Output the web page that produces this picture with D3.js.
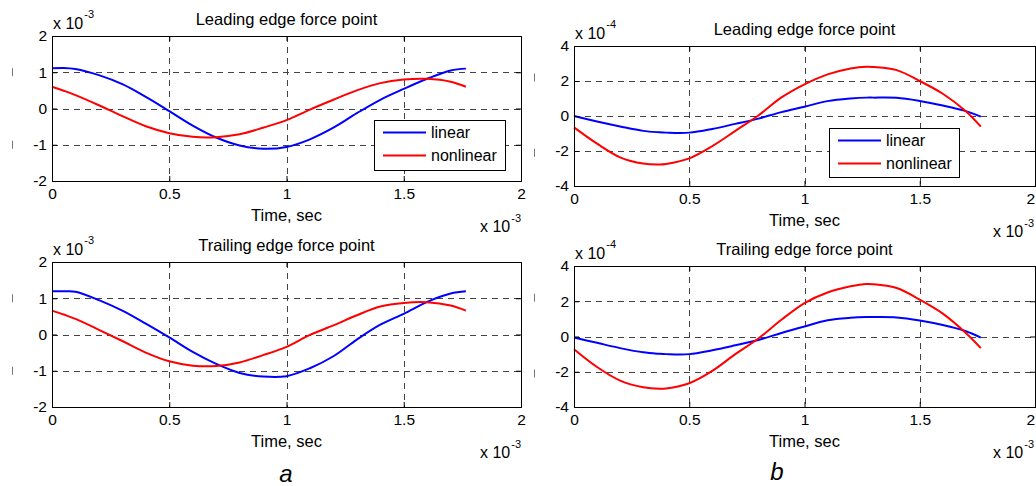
<!DOCTYPE html>
<html>
<head>
<meta charset="utf-8">
<script src="https://cdn.jsdelivr.net/npm/d3@7"></script>
<style>
  html, body { margin: 0; padding: 0; background: #fff; }
  svg { display: block; font-family: "Liberation Sans", Arial, sans-serif; }
</style>
</head>
<body>
<svg id="chart" width="1036" height="486"></svg>
<script>
// ---------- DATA (time in units of 1e-3 s; values in units of the panel multiplier) ----------
const seriesNames = ["linear", "nonlinear"];
const xTicks = [0, 0.5, 1, 1.5, 2];
const xTickLabels = ["0", "0.5", "1", "1.5", "2"];
const yTicksA = [-2, -1, 0, 1, 2];          // panels a (x 10^-3)
const yTickLabelsA = ["-2", "-1", "0", "1", "2"];
const yTicksB = [-4, -2, 0, 2, 4];          // panels b (x 10^-4)
const yTickLabelsB = ["-4", "-2", "0", "2", "4"];

// column a : time samples
const timeA = [0, 0.05, 0.1, 0.2, 0.3, 0.4, 0.5, 0.6, 0.7, 0.8, 0.9, 1.0, 1.1, 1.2, 1.3, 1.4, 1.5, 1.6, 1.7, 1.765];
// a, leading edge force point
const aLeadLinear    = [1.11, 1.12, 1.09, 0.92, 0.67, 0.32, -0.07, -0.47, -0.80, -1.02, -1.11, -1.06, -0.85, -0.53, -0.13, 0.24, 0.54, 0.82, 1.05, 1.10];
const aLeadNonlinear = [0.60, 0.49, 0.37, 0.09, -0.21, -0.49, -0.68, -0.78, -0.79, -0.71, -0.53, -0.32, -0.03, 0.24, 0.50, 0.70, 0.80, 0.82, 0.74, 0.60];
// a, trailing edge force point
const aTrailLinear    = [1.19, 1.19, 1.18, 0.95, 0.66, 0.30, -0.08, -0.48, -0.81, -1.06, -1.16, -1.15, -0.93, -0.60, -0.14, 0.27, 0.57, 0.90, 1.13, 1.19];
const aTrailNonlinear = [0.66, 0.55, 0.43, 0.13, -0.18, -0.50, -0.74, -0.86, -0.87, -0.77, -0.57, -0.34, -0.01, 0.25, 0.53, 0.77, 0.87, 0.89, 0.80, 0.66];

// column b : time samples
const timeB = [0, 0.1, 0.2, 0.3, 0.37, 0.4, 0.5, 0.6, 0.7, 0.8, 0.9, 1.0, 1.1, 1.2, 1.27, 1.3, 1.4, 1.5, 1.6, 1.7, 1.765];
// b, leading edge force point
const bLeadLinear    = [0.00, -0.32, -0.60, -0.85, -0.93, -0.95, -0.95, -0.74, -0.45, -0.15, 0.22, 0.53, 0.85, 1.00, 1.05, 1.05, 1.04, 0.86, 0.60, 0.28, -0.04];
const bLeadNonlinear = [-0.65, -1.58, -2.36, -2.72, -2.77, -2.74, -2.42, -1.72, -0.85, 0.03, 1.06, 1.81, 2.38, 2.72, 2.82, 2.80, 2.62, 2.00, 1.27, 0.27, -0.61];
// b, trailing edge force point
const bTrailLinear    = [-0.06, -0.36, -0.66, -0.90, -0.98, -1.00, -1.00, -0.78, -0.50, -0.20, 0.20, 0.57, 0.92, 1.06, 1.10, 1.10, 1.08, 0.91, 0.65, 0.30, -0.06];
const bTrailNonlinear = [-0.72, -1.73, -2.50, -2.88, -2.97, -2.95, -2.65, -1.95, -1.00, -0.11, 0.95, 1.90, 2.50, 2.85, 2.98, 2.96, 2.75, 2.09, 1.30, 0.20, -0.66];

const titles = ["Leading edge force point", "Trailing edge force point"];
const xLabel = "Time, sec";
const xExp = "-3";
const yExpA = "-3";
const yExpB = "-4";
const panelLetters = ["a", "b"];

// ---------- LAYOUT ----------
const W = 1036;
const colors = ["#0000ff", "#ff0000"];
const panels = [
  { box: [52, 521, 36, 181],   t: timeA, ys: [aLeadLinear, aLeadNonlinear],   yTicks: yTicksA, yLabels: yTickLabelsA, yExp: yExpA, title: titles[0], legend: [374, 120, 131, 50] },
  { box: [52, 521, 262, 407],  t: timeA, ys: [aTrailLinear, aTrailNonlinear], yTicks: yTicksA, yLabels: yTickLabelsA, yExp: yExpA, title: titles[1], legend: null },
  { box: [574, 1035, 46, 186], t: timeB, ys: [bLeadLinear, bLeadNonlinear],   yTicks: yTicksB, yLabels: yTickLabelsB, yExp: yExpB, title: titles[0], legend: [829, 128, 130, 49] },
  { box: [574, 1035, 266, 407], t: timeB, ys: [bTrailLinear, bTrailNonlinear], yTicks: yTicksB, yLabels: yTickLabelsB, yExp: yExpB, title: titles[1], legend: null }
];

const svg = d3.select("#chart");

panels.forEach((p, pi) => {
  const [x0, x1, y0, y1] = p.box;
  const x = d3.scaleLinear().domain([0, 2]).range([x0, x1]);
  const yd = d3.extent(p.yTicks);
  const y = d3.scaleLinear().domain(yd).range([y1, y0]);
  const g = svg.append("g");
  const cx = (x0 + x1) / 2;

  // grid (dashed) at interior ticks
  g.selectAll(".gx").data(xTicks.filter(v => v > 0 && v < 2)).enter().append("line")
    .attr("x1", d => Math.round(x(d)) + 0.5).attr("x2", d => Math.round(x(d)) + 0.5).attr("y1", y0).attr("y2", y1)
    .attr("stroke", "#444").attr("stroke-width", 1).attr("stroke-dasharray", "6,5");
  g.selectAll(".gy").data(p.yTicks.filter(v => v > yd[0] && v < yd[1])).enter().append("line")
    .attr("x1", x0).attr("x2", x1).attr("y1", d => Math.round(y(d)) + 0.5).attr("y2", d => Math.round(y(d)) + 0.5)
    .attr("stroke", "#444").attr("stroke-width", 1).attr("stroke-dasharray", "6,5");

  // curves
  const line = d3.line().x((d, i) => x(p.t[i])).y(d => y(d)).curve(d3.curveCatmullRom.alpha(0.5));
  p.ys.forEach((vals, si) => {
    g.append("path").datum(vals).attr("d", line)
      .attr("fill", "none").attr("stroke", colors[si]).attr("stroke-width", 2);
  });

  // axes (ticks inside)
  const fmtX = (d) => xTickLabels[xTicks.indexOf(d)];
  const fmtY = (d) => p.yLabels[p.yTicks.indexOf(d)];
  g.append("g").attr("transform", `translate(0,${y1})`)
    .call(d3.axisBottom(x).tickValues(xTicks).tickFormat(fmtX).tickSize(-5).tickPadding(7));
  g.append("g").attr("transform", `translate(${x0},0)`)
    .call(d3.axisLeft(y).tickValues(p.yTicks).tickFormat(fmtY).tickSize(-5).tickPadding(5));
  g.append("g").attr("transform", `translate(0,${y0})`)
    .call(d3.axisTop(x).tickValues(xTicks).tickFormat("").tickSize(-5));
  g.append("g").attr("transform", `translate(${x1},0)`)
    .call(d3.axisRight(y).tickValues(p.yTicks).tickFormat("").tickSize(-5));
  g.selectAll(".domain").remove();
  g.selectAll(".tick line").attr("stroke", "#000");
  g.selectAll(".tick text").attr("fill", "#000").attr("font-size", 15.5)
    .attr("font-family", "'Liberation Sans', Arial, sans-serif");
  // keep the last x tick label inside the page
  g.selectAll(".tick text").each(function () {
    const bb = this.getBBox();
    const m = this.parentNode.getAttribute("transform").match(/translate\(([-\d.]+)/);
    const tx = m ? +m[1] : 0;
    if (tx + bb.x + bb.width > W - 1) d3.select(this).attr("x", (W - 1) - (tx + bb.x + bb.width));
  });

  // frame
  g.append("rect").attr("x", x0 + 0.5).attr("y", y0 + 0.5)
    .attr("width", x1 - x0).attr("height", y1 - y0)
    .attr("fill", "none").attr("stroke", "#000").attr("stroke-width", 1);

  // title
  g.append("text").attr("x", cx).attr("y", y0 - 11.5).attr("text-anchor", "middle")
    .attr("font-size", 16.5).text(p.title);

  // y multiplier (top-left)
  const ym = g.append("text").attr("x", x0 + 1).attr("y", y0 - 7.5).attr("font-size", 16);
  ym.append("tspan").text("x 10");
  ym.append("tspan").attr("font-size", 11).attr("dy", -11).attr("dx", 1).text(p.yExp);

  // x label
  g.append("text").attr("x", cx).attr("y", y1 + 40).attr("text-anchor", "middle")
    .attr("font-size", 16.5).text(xLabel);

  // x multiplier (bottom-right)
  const xm = g.append("text").attr("x", Math.min(x1 - 41, W - 43)).attr("y", y1 + 51).attr("font-size", 16);
  xm.append("tspan").text("x 10");
  xm.append("tspan").attr("font-size", 11).attr("dy", -10).attr("dx", 1).text(xExp);

  // small marks at left margin
  const mx = pi < 2 ? 12.5 : 534.5;
  const markVals = pi < 2 ? [1, -1] : [2.2, -2.1];
  markVals.forEach(v => {
    g.append("line").attr("x1", mx).attr("x2", mx).attr("y1", y(v) - 4).attr("y2", y(v) + 4)
      .attr("stroke", "#777").attr("stroke-width", 1);
  });

  // legend
  if (p.legend) {
    const [lx, ly, lw, lh] = p.legend;
    const lg = g.append("g");
    lg.append("rect").attr("x", lx + 0.5).attr("y", ly + 0.5).attr("width", lw).attr("height", lh)
      .attr("fill", "#fff").attr("stroke", "#000").attr("stroke-width", 1);
    seriesNames.forEach((name, si) => {
      const yy = ly + 12.5 + si * 23;
      lg.append("line").attr("x1", lx + 9).attr("x2", lx + 52).attr("y1", yy).attr("y2", yy)
        .attr("stroke", colors[si]).attr("stroke-width", 2);
      lg.append("text").attr("x", lx + 57).attr("y", yy + 5.5).attr("font-size", 16).text(name);
    });
  }
});

// panel letters
svg.append("text").attr("x", 286).attr("y", 482).attr("text-anchor", "middle")
  .attr("font-size", 24).attr("font-style", "italic").text(panelLetters[0]);
svg.append("text").attr("x", 777).attr("y", 480).attr("text-anchor", "middle")
  .attr("font-size", 24).attr("font-style", "italic").text(panelLetters[1]);
</script>
</body>
</html>
